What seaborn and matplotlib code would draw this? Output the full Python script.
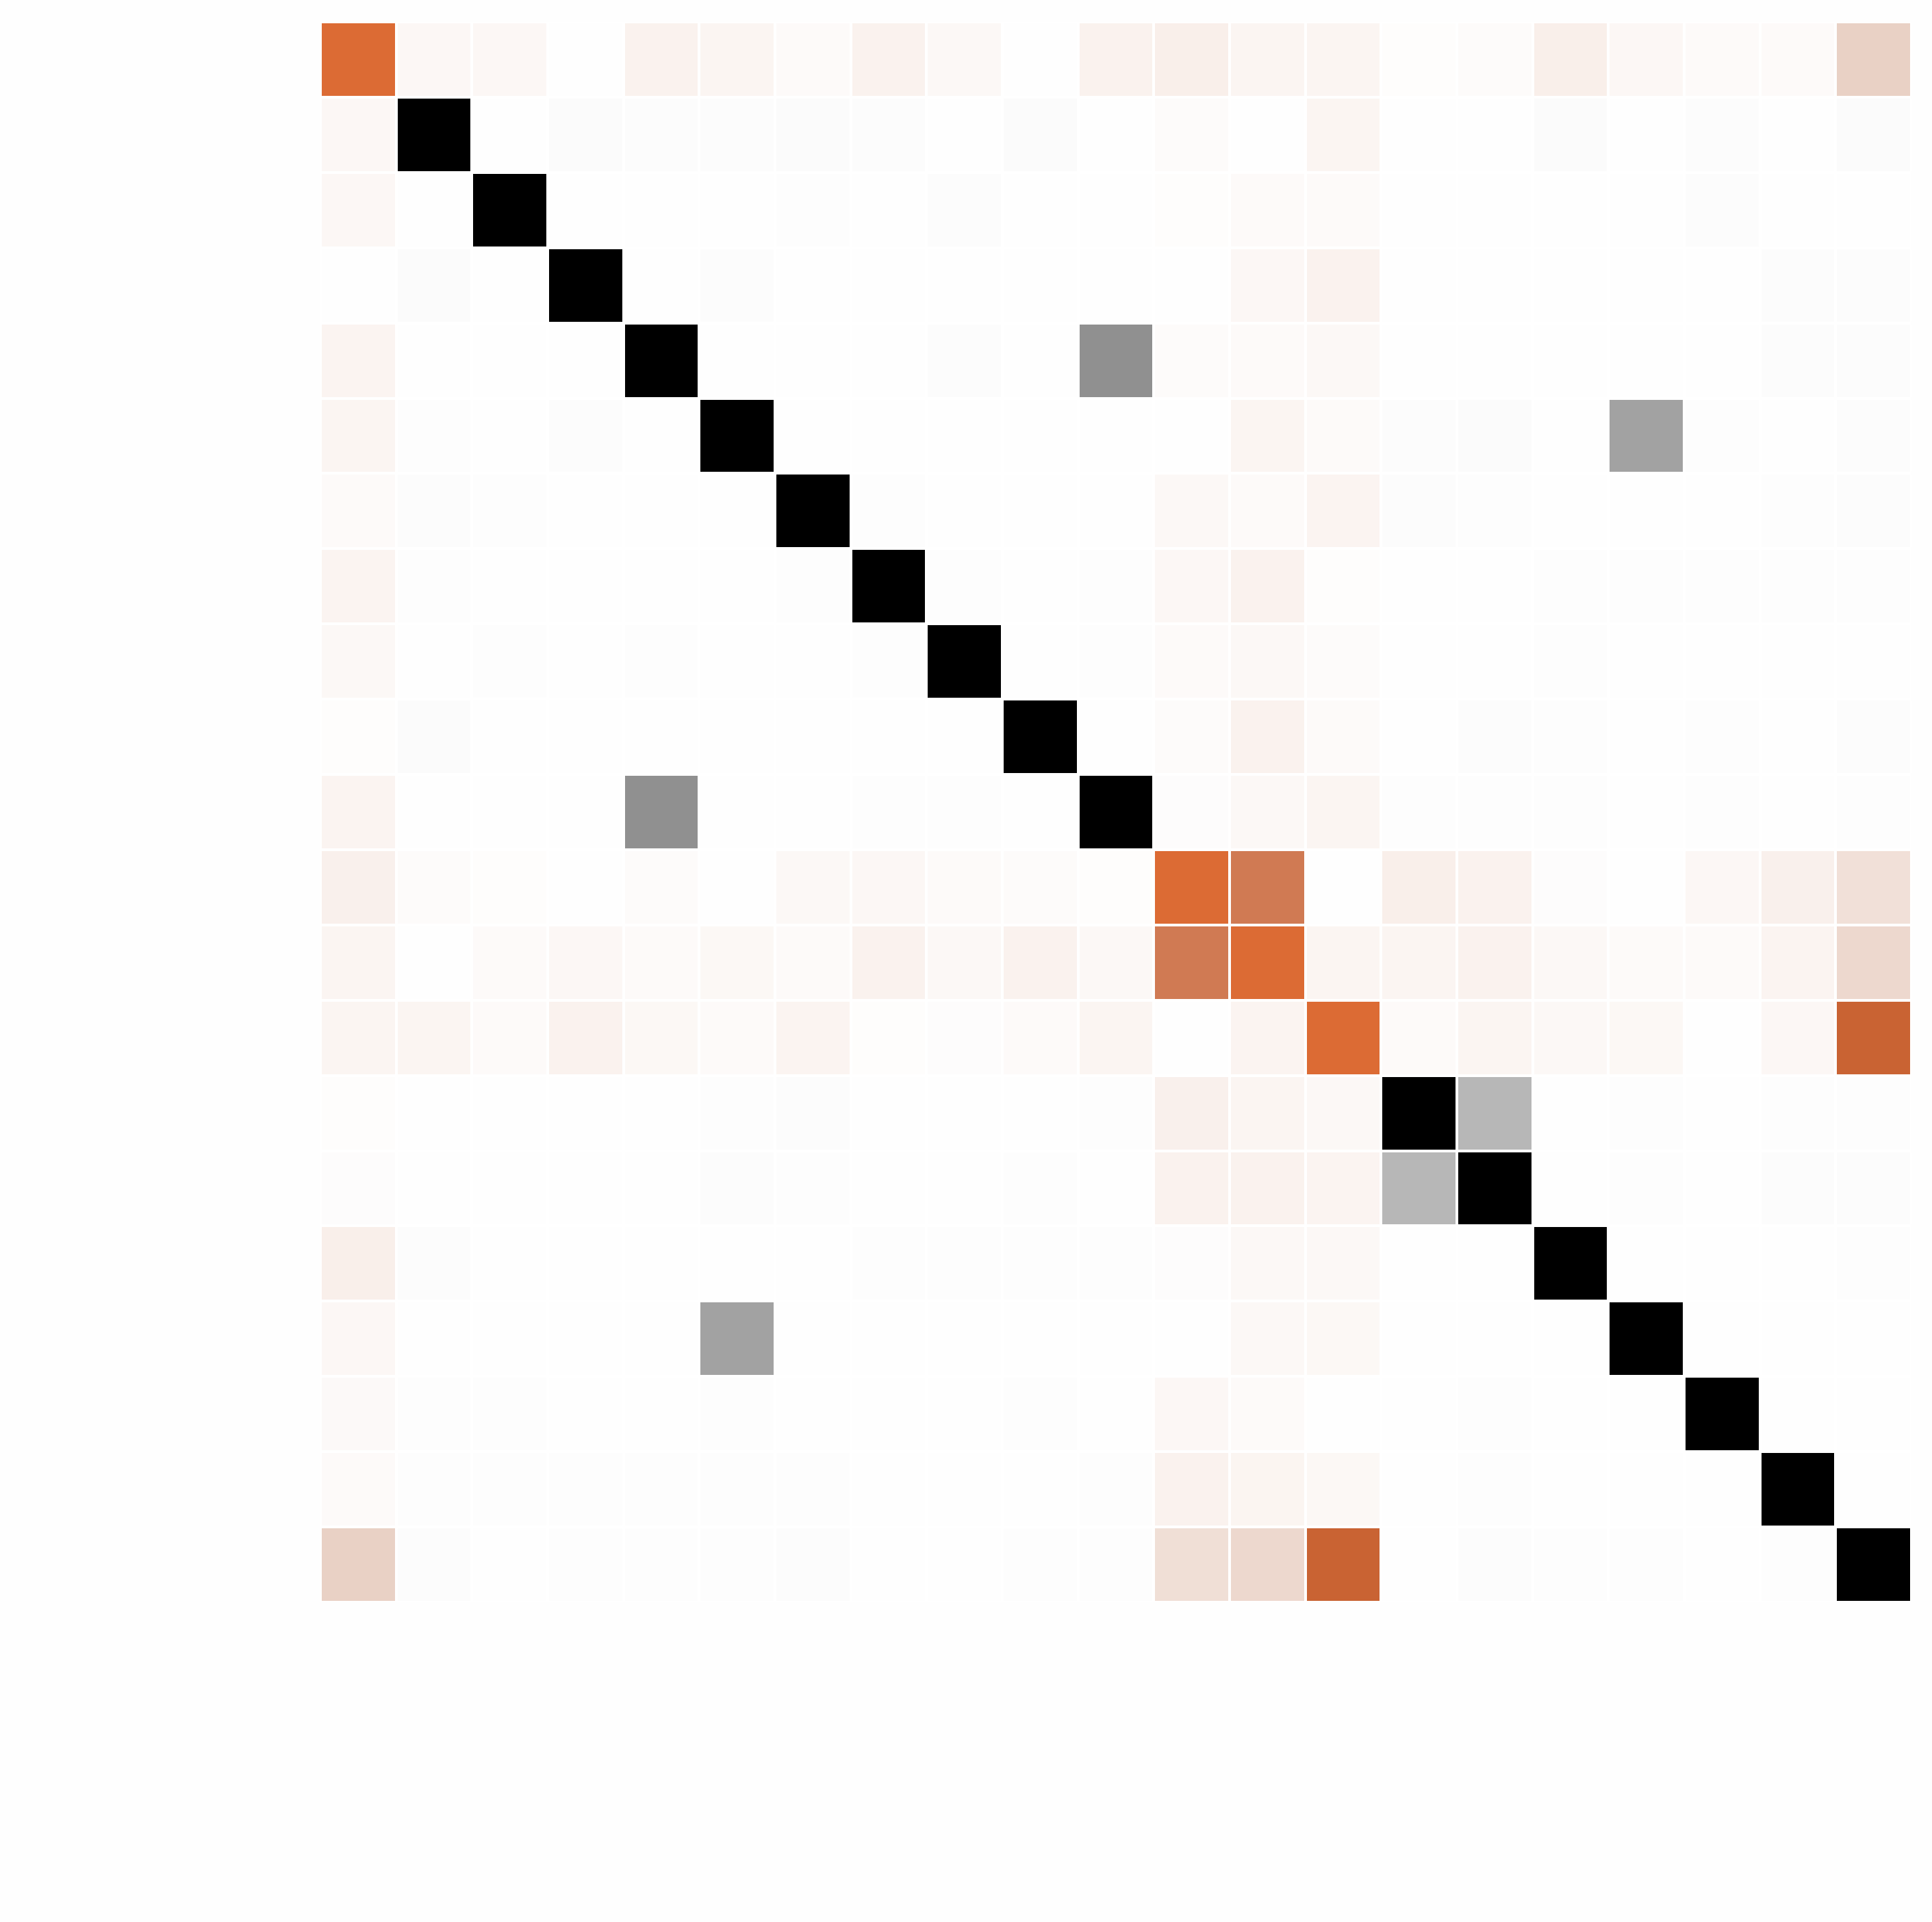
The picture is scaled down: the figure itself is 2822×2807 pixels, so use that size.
import numpy as np
import pandas as pd
import seaborn as sns
import matplotlib.pyplot as plt
from matplotlib.colors import LinearSegmentedColormap

# 21 variables, no labels shown in the chart
variables = [f"v{i}" for i in range(21)]

# variables whose row/column is drawn in the orange scale
orange_vars = [0, 11, 12, 13]

# shade strength per cell (0 = white, 1 = full colour)
row_00 = [0.90, 0.05, 0.05, 0.00, 0.08, 0.06, 0.03, 0.08, 0.04, 0.00, 0.08, 0.10, 0.06, 0.06, 0.01, 0.02, 0.10, 0.05, 0.03, 0.03, 0.30]
row_01 = [0.05, 1.00, 0.00, 0.015, 0.008, 0.008, 0.012, 0.008, 0.00, 0.012, 0.00, 0.02, 0.00, 0.06, 0.00, 0.00, 0.012, 0.00, 0.01, 0.00, 0.012]
row_02 = [0.05, 0.00, 1.00, 0.00, 0.00, 0.00, 0.005, 0.00, 0.01, 0.00, 0.00, 0.01, 0.03, 0.03, 0.00, 0.00, 0.00, 0.00, 0.01, 0.00, 0.00]
row_03 = [0.00, 0.012, 0.00, 1.00, 0.00, 0.008, 0.00, 0.00, 0.00, 0.00, 0.00, 0.00, 0.05, 0.08, 0.00, 0.00, 0.00, 0.00, 0.00, 0.008, 0.008]
row_04 = [0.07, 0.00, 0.00, 0.00, 1.00, 0.00, 0.00, 0.00, 0.008, 0.00, 0.43, 0.02, 0.03, 0.04, 0.00, 0.00, 0.00, 0.00, 0.00, 0.008, 0.008]
row_05 = [0.06, 0.005, 0.00, 0.008, 0.00, 1.00, 0.00, 0.00, 0.00, 0.00, 0.00, 0.00, 0.06, 0.03, 0.01, 0.015, 0.00, 0.36, 0.005, 0.00, 0.008]
row_06 = [0.03, 0.01, 0.006, 0.00, 0.00, 0.00, 1.00, 0.004, 0.00, 0.00, 0.00, 0.04, 0.03, 0.07, 0.01, 0.006, 0.00, 0.00, 0.00, 0.005, 0.01]
row_07 = [0.07, 0.004, 0.00, 0.00, 0.00, 0.00, 0.004, 1.00, 0.004, 0.00, 0.004, 0.05, 0.08, 0.01, 0.00, 0.00, 0.005, 0.004, 0.004, 0.004, 0.004]
row_08 = [0.04, 0.00, 0.006, 0.00, 0.006, 0.00, 0.00, 0.004, 1.00, 0.00, 0.004, 0.03, 0.04, 0.02, 0.00, 0.00, 0.006, 0.00, 0.00, 0.00, 0.00]
row_09 = [0.01, 0.012, 0.00, 0.00, 0.00, 0.00, 0.00, 0.00, 0.00, 1.00, 0.00, 0.02, 0.08, 0.03, 0.00, 0.008, 0.005, 0.00, 0.005, 0.00, 0.008]
row_10 = [0.07, 0.00, 0.00, 0.00, 0.43, 0.00, 0.00, 0.004, 0.004, 0.00, 1.00, 0.015, 0.04, 0.06, 0.005, 0.005, 0.005, 0.00, 0.005, 0.00, 0.005]
row_11 = [0.09, 0.02, 0.01, 0.00, 0.02, 0.00, 0.04, 0.05, 0.025, 0.02, 0.01, 0.90, 0.80, 0.00, 0.10, 0.08, 0.015, 0.00, 0.05, 0.09, 0.20]
row_12 = [0.06, 0.00, 0.025, 0.05, 0.03, 0.045, 0.03, 0.08, 0.04, 0.08, 0.04, 0.80, 0.90, 0.06, 0.06, 0.08, 0.04, 0.03, 0.025, 0.07, 0.25]
row_13 = [0.06, 0.06, 0.03, 0.08, 0.045, 0.03, 0.07, 0.01, 0.015, 0.03, 0.06, 0.00, 0.07, 0.90, 0.03, 0.06, 0.04, 0.045, 0.00, 0.05, 1.00]
row_14 = [0.01, 0.00, 0.00, 0.00, 0.00, 0.004, 0.01, 0.00, 0.00, 0.00, 0.005, 0.09, 0.06, 0.04, 1.00, 0.28, 0.00, 0.004, 0.00, 0.004, 0.004]
row_15 = [0.015, 0.00, 0.00, 0.00, 0.00, 0.01, 0.004, 0.00, 0.00, 0.005, 0.00, 0.08, 0.08, 0.07, 0.28, 1.00, 0.00, 0.004, 0.00, 0.008, 0.008]
row_16 = [0.10, 0.008, 0.00, 0.00, 0.00, 0.00, 0.00, 0.005, 0.005, 0.005, 0.005, 0.015, 0.04, 0.04, 0.00, 0.00, 1.00, 0.00, 0.00, 0.00, 0.004]
row_17 = [0.05, 0.00, 0.00, 0.00, 0.00, 0.36, 0.00, 0.00, 0.00, 0.00, 0.00, 0.00, 0.04, 0.045, 0.00, 0.00, 0.00, 1.00, 0.00, 0.00, 0.00]
row_18 = [0.035, 0.005, 0.005, 0.00, 0.00, 0.005, 0.00, 0.00, 0.00, 0.005, 0.00, 0.05, 0.03, 0.00, 0.00, 0.004, 0.00, 0.00, 1.00, 0.00, 0.00]
row_19 = [0.03, 0.005, 0.005, 0.005, 0.005, 0.005, 0.004, 0.00, 0.00, 0.00, 0.005, 0.08, 0.065, 0.045, 0.00, 0.005, 0.00, 0.00, 0.00, 1.00, 0.00]
row_20 = [0.30, 0.008, 0.00, 0.004, 0.004, 0.004, 0.008, 0.00, 0.00, 0.004, 0.004, 0.21, 0.25, 1.00, 0.00, 0.008, 0.004, 0.004, 0.00, 0.004, 1.00]

rows = [row_00, row_01, row_02, row_03, row_04, row_05, row_06, row_07, row_08, row_09, row_10,
        row_11, row_12, row_13, row_14, row_15, row_16, row_17, row_18, row_19, row_20]
df = pd.DataFrame(rows, index=variables, columns=variables)

# cells in an orange row or column use the orange scale, the rest grey
in_orange = np.zeros(len(variables), dtype=bool)
in_orange[orange_vars] = True
orange_mask = in_orange[:, None] | in_orange[None, :]

grey_cmap = LinearSegmentedColormap.from_list("grey", ["#fefefe", "#000000"])
orange_cmap = LinearSegmentedColormap.from_list(
    "orange",
    [(0.0, "#fefefe"), (0.1, "#f9efea"), (0.3, "#e9d1c5"),
     (0.8, "#d07a53"), (0.9, "#dc6b34"), (1.0, "#c96333")])

fig = plt.figure(figsize=(2822 / 200, 2807 / 200), dpi=200, facecolor="#fefefe")
ax = fig.add_axes([468 / 2822, 467 / 2807, 2324 / 2822, 2308 / 2807])

sns.heatmap(df, mask=orange_mask, cmap=grey_cmap, vmin=0, vmax=1, cbar=False,
            linewidths=1.4, linecolor="white", xticklabels=False, yticklabels=False, ax=ax)
sns.heatmap(df, mask=~orange_mask, cmap=orange_cmap, vmin=0, vmax=1, cbar=False,
            linewidths=1.4, linecolor="white", xticklabels=False, yticklabels=False, ax=ax)

ax.set_xlabel("")
ax.set_ylabel("")
ax.set_facecolor("#fefefe")

fig.savefig("out.png", dpi=200, facecolor=fig.get_facecolor())
